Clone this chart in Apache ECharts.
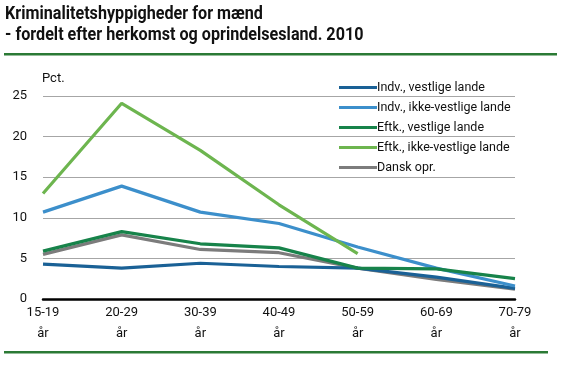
<!DOCTYPE html>
<html><head><meta charset="utf-8">
<script src="https://cdn.jsdelivr.net/npm/echarts@6/dist/echarts.min.js"></script>
<style>html,body{margin:0;padding:0;background:#fff}#c{width:564px;height:370px}</style>
</head><body><div id="c"></div>
<script>
const categories = ['15-19\når','20-29\når','30-39\når','40-49\når','50-59\når','60-69\når','70-79\når'];
const indvVestlige = [4.3, 3.8, 4.4, 4.0, 3.8, 2.7, 1.3];
const indvIkkeVestlige = [10.7, 13.9, 10.7, 9.3, 6.4, 3.8, 1.6];
const eftkVestlige = [5.9, 8.3, 6.8, 6.3, 3.8, 3.7, 2.5];
const eftkIkkeVestlige = [13.0, 24.1, 18.3, 11.6, 5.6, null, null];
const danskOpr = [5.5, 7.9, 6.1, 5.7, 3.8, 2.4, 1.2];
const seriesNames = ['Indv., vestlige lande','Indv., ikke-vestlige lande','Eftk., vestlige lande','Eftk., ikke-vestlige lande','Dansk opr.'];
const yTicks = [0, 5, 10, 15, 20, 25];
const titleLines = ['Kriminalitetshyppigheder for mænd', '- fordelt efter herkomst og oprindelsesland. 2010'];

const FONT = 'Roboto, sans-serif';
const colors = ['#1a6196', '#3c8fcb', '#17834a', '#6db54f', '#7c7c7c'];
const data = [indvVestlige, indvIkkeVestlige, eftkVestlige, eftkIkkeVestlige, danskOpr];

const chart = echarts.init(document.getElementById('c'));
chart.setOption({
  animation: false,
  graphic: [
    { type: 'text', x: 5, y: 4, scaleX: 0.85, scaleY: 1,
      style: { text: titleLines.join('\n'), fontFamily: FONT, fontWeight: 'bold', fontSize: 19, lineHeight: 21, fill: '#111', textVerticalAlign: 'top' } },
    { type: 'rect', shape: { x: 4, y: 53, width: 553, height: 2.5 }, style: { fill: '#2b7a35' } },
    { type: 'rect', shape: { x: 4, y: 351, width: 544, height: 2.5 }, style: { fill: '#2b7a35' } },
    { type: 'text', x: 42, y: 72, style: { text: 'Pct.', fontFamily: FONT, fontSize: 13, fill: '#111' } }
  ],
  legend: {
    orient: 'vertical', left: 334, top: 76,
    itemWidth: 38, itemHeight: 3, itemGap: 7,
    icon: 'rect',
    data: seriesNames,
    textStyle: { fontFamily: FONT, fontSize: 12.5, color: '#111', padding: [0, 0, 0, -5] }
  },
  grid: { left: 43, right: 49, top: 96, bottom: 71 },
  xAxis: {
    type: 'category', data: categories, boundaryGap: false,
    axisLine: { lineStyle: { color: '#000', width: 2.5 } },
    axisTick: { show: false },
    axisLabel: { fontFamily: FONT, fontSize: 13, color: '#111', lineHeight: 21, margin: 3 }
  },
  yAxis: {
    type: 'value', min: yTicks[0], max: yTicks[yTicks.length - 1], interval: 5,
    axisLine: { show: false }, axisTick: { show: false },
    axisLabel: { fontFamily: FONT, fontSize: 13, color: '#111', margin: 16 },
    splitLine: { lineStyle: { color: '#a6a6a6', width: 1 } }
  },
  series: seriesNames.map((n, i) => ({
    name: n, type: 'line', data: data[i], symbol: 'none',
    lineStyle: { color: colors[i], width: 3.2 }, itemStyle: { color: colors[i] },
    z: i === 4 ? 1 : 2
  }))
});
</script></body></html>
